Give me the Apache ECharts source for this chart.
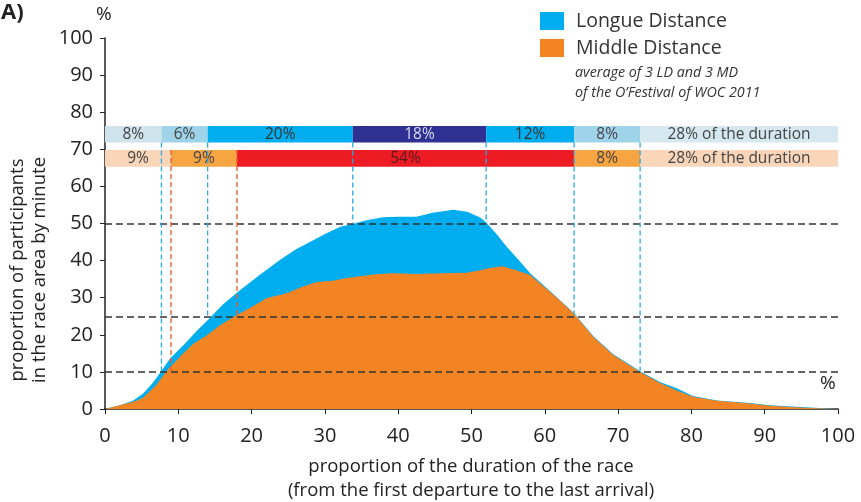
<!DOCTYPE html>
<html>
<head>
<meta charset="utf-8">
<script src="https://cdn.jsdelivr.net/npm/echarts@6/dist/echarts.min.js"></script>
<style>
  html, body { margin: 0; padding: 0; background: #fff; }
  #chart { width: 861px; height: 502px; }
</style>
</head>
<body>
<div id="chart"></div>
<script>
// proportion of participants in race area, [duration %, participants %]
var longDist = [[0,0],[2,1],[3.8,2.2],[5.2,4.2],[6.5,7],[7.5,9.7],[8.9,13.7],[10.7,17.2],[12.5,21],[14.3,24.5],
  [16,28],[18.4,32],[21,36],[23.9,40.2],[26,43],[28.4,45.5],[30,47.2],[32.1,49.1],[34,50],[35.7,50.9],
  [37.9,51.7],[40,51.8],[42.5,51.8],[44.7,52.9],[47.5,53.7],[49.4,53.2],[51.2,51.6],[52.1,50.1],[53.5,47],
  [54.8,43.7],[56.5,40],[58,36.6],[60.7,31.8],[63.9,26],[66.6,19.7],[69.3,14.8],[73,10.2],[75.7,7.3],
  [78,5.6],[80.2,3.5],[83.5,2.3],[88,1.6],[90.7,1],[96.2,0.4],[100,0]];
var middleDist = [[0,0],[2,1],[4,2],[5.2,3],[7,6.5],[8.5,10.5],[10.7,15],[12,17.5],[13.9,19.9],[15.5,22.3],
  [17.5,24.8],[20,27.5],[22.1,29.9],[24.8,31.2],[27,33],[28.9,34.2],[31.1,34.6],[33,35.3],[34.8,35.8],
  [37,36.3],[39.3,36.6],[42.5,36.4],[46,36.6],[49.3,36.7],[51.2,37.4],[52.5,38],[54.2,38.5],[56,37.5],
  [58,36.1],[60.7,31.6],[62.3,28.8],[63.9,25.9],[66.6,19.5],[69.3,14.6],[71,12.5],[73,10],[75.7,7],
  [78,5],[80.2,3.3],[83.5,2.2],[88,1.5],[90.7,0.9],[93,0.6],[96.2,0.3],[100,0]];

// phase bands
var ldBounds = [0, 7.7, 14, 33.8, 52, 64, 73, 100];
var ldLabels = ['8%', '6%', '20%', '18%', '12%', '8%', '28% of the duration'];
var mdBounds = [0, 9, 18, 64, 73, 100];
var mdLabels = ['9%', '9%', '54%', '8%', '28% of the duration'];

// threshold levels and the crossing points
var levels = [10, 25, 50];
var ldCross = [[7.7, 10], [14, 25], [33.8, 50], [52, 50], [64, 25], [73, 10]];
var mdCross = [[9, 10], [18, 25]];

var ldColors = ['#cfe3ec', '#9fd3ea', '#00aeef', '#2e3192', '#00aeef', '#9fd3ea', '#d5e8ef'];
var ldText = ['#444', '#444', '#333', '#dcdcf0', '#333', '#444', '#444'];
var mdColors = ['#f9d5b9', '#f7a443', '#ed1c24', '#f7a443', '#f9d5b9'];
var mdText = ['#444', '#444', '#5a1a1a', '#444', '#444'];

var FONT = '"Open Sans", "Noto Sans", sans-serif';

function segs(b) {
  var out = [];
  for (var i = 0; i < b.length - 1; i++) out.push([b[i], b[i + 1]]);
  return out;
}

function bandSeries(bounds, labels, fills, texts, yTop, yBot) {
  return {
    type: 'custom',
    z: 5,
    silent: true,
    data: segs(bounds),
    renderItem: function (params, api) {
      var p0 = api.coord([api.value(0), yTop]);
      var p1 = api.coord([api.value(1), yBot]);
      var i = params.dataIndex;
      return {
        type: 'rect',
        shape: { x: p0[0], y: p0[1], width: p1[0] - p0[0], height: p1[1] - p0[1] },
        style: { fill: fills[i] },
        textContent: {
          type: 'text',
          style: { text: labels[i], fill: texts[i], font: '15.5px ' + FONT }
        },
        textConfig: { position: 'inside' }
      };
    }
  };
}

function vlineSeries(pts, yTop, color) {
  return {
    type: 'custom',
    z: 6,
    silent: true,
    data: pts,
    renderItem: function (params, api) {
      var a = api.coord([api.value(0), yTop]);
      var b = api.coord([api.value(0), api.value(1)]);
      return {
        type: 'line',
        shape: { x1: a[0], y1: a[1], x2: b[0], y2: b[1] },
        style: { stroke: color, lineWidth: 1.3, lineDash: [5, 3] }
      };
    }
  };
}

var chart = echarts.init(document.getElementById('chart'));
chart.setOption({
  animation: false,
  grid: { left: 105, right: 23, top: 38, bottom: 93 },
  legend: {
    left: 535, top: 6, orient: 'vertical', itemGap: 7,
    itemWidth: 24, itemHeight: 18, icon: 'rect',
    textStyle: { fontFamily: FONT, fontSize: 19.5, color: '#333', padding: [0, 0, 0, 7] },
    data: ['Longue Distance', 'Middle Distance']
  },
  xAxis: {
    type: 'value', min: 0, max: 100, interval: 10,
    splitLine: { show: false },
    axisLine: { lineStyle: { color: '#222', width: 1.5 } },
    axisTick: { length: 5, lineStyle: { color: '#222' } },
    axisLabel: { fontFamily: FONT, fontSize: 20, color: '#222', margin: 17 }
  },
  yAxis: {
    type: 'value', min: 0, max: 100, interval: 10,
    splitLine: { show: false },
    axisLine: { show: true, lineStyle: { color: '#222', width: 1.5 } },
    axisTick: { show: true, length: 5, lineStyle: { color: '#222' } },
    axisLabel: { fontFamily: FONT, fontSize: 20, color: '#222', margin: 12 }
  },
  series: [
    {
      name: 'Longue Distance', type: 'line', data: longDist,
      showSymbol: false, lineStyle: { width: 0 }, color: '#00aeef',
      areaStyle: { color: '#00aeef', opacity: 1 }, z: 2
    },
    {
      name: 'Middle Distance', type: 'line', data: middleDist,
      showSymbol: false, lineStyle: { width: 0 }, color: '#f28424',
      areaStyle: { color: '#f28424', opacity: 1 }, z: 3,
      markLine: {
        silent: true, symbol: 'none', label: { show: false },
        lineStyle: { color: '#333', type: [7, 4], width: 1.5 },
        data: levels.map(function (v) { return { yAxis: v }; })
      }
    },
    vlineSeries(ldCross, 71.8, '#29a9e8'),
    vlineSeries(mdCross, 69.8, '#f05a28'),
    bandSeries(ldBounds, ldLabels, ldColors, ldText, 76.3, 71.8),
    bandSeries(mdBounds, mdLabels, mdColors, mdText, 69.8, 65.3)
  ],
  graphic: [
    { type: 'text', left: 1, top: 2, style: { text: 'A)', font: 'bold 22px ' + FONT, fill: '#222' } },
    { type: 'text', left: 96, top: 5, style: { text: '%', font: '19px ' + FONT, fill: '#222' } },
    { type: 'text', left: 820, top: 374, style: { text: '%', font: '19px ' + FONT, fill: '#222' } },
    { type: 'text', left: 575, top: 66, style: { text: 'average of 3 LD and 3 MD', font: 'italic 14.3px ' + FONT, fill: '#333' } },
    { type: 'text', left: 575, top: 86, style: { text: 'of the O\u2019Festival of WOC 2011', font: 'italic 14.3px ' + FONT, fill: '#333' } },
    { type: 'text', x: 18, y: 270, rotation: Math.PI / 2,
      style: { text: 'proportion of participants', font: '18.5px ' + FONT, fill: '#222', align: 'center', verticalAlign: 'middle' } },
    { type: 'text', x: 40, y: 270, rotation: Math.PI / 2,
      style: { text: 'in the race area by minute', font: '18.5px ' + FONT, fill: '#222', align: 'center', verticalAlign: 'middle' } },
    { type: 'text', x: 471, y: 467,
      style: { text: 'proportion of the duration of the race', font: '18.5px ' + FONT, fill: '#222', align: 'center', verticalAlign: 'middle' } },
    { type: 'text', x: 471, y: 491,
      style: { text: '(from the first departure to the last arrival)', font: '18.5px ' + FONT, fill: '#222', align: 'center', verticalAlign: 'middle' } }
  ]
});
</script>
</body>
</html>
